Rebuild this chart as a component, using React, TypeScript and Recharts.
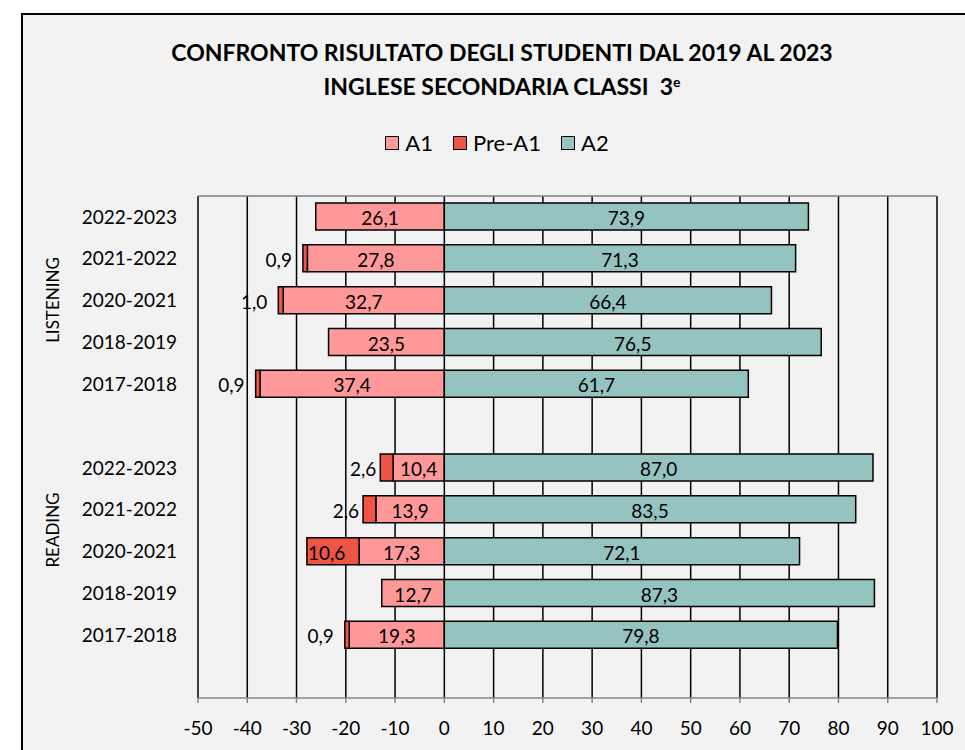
import { BarChart, Bar, XAxis, YAxis, CartesianGrid, Legend, LabelList } from 'recharts';

// rows from top to bottom; empty strings are the spacer rows
const categories = ['2022-2023', '2021-2022', '2020-2021', '2018-2019', '2017-2018', '', '2022-2023', '2021-2022', '2020-2021', '2018-2019', '2017-2018', ''];
const preA1 = [0, 0.9, 1.0, 0, 0.9, null, 2.6, 2.6, 10.6, 0, 0.9, null];
const a1 = [26.1, 27.8, 32.7, 23.5, 37.4, null, 10.4, 13.9, 17.3, 12.7, 19.3, null];
const a2 = [73.9, 71.3, 66.4, 76.5, 61.7, null, 87.0, 83.5, 72.1, 87.3, 79.8, null];
const xTicks = [-50, -40, -30, -20, -10, 0, 10, 20, 30, 40, 50, 60, 70, 80, 90, 100];
const legendOrder = ['A1', 'Pre-A1', 'A2'];

const chartData = categories.map((c, i) => ({
  key: 'r' + i,
  label: c,
  a1: a1[i] == null ? null : -(a1[i] as number),
  pre: preA1[i] == null ? null : -(preA1[i] as number),
  a2: a2[i],
}));

const COLORS = { a1: '#ff9999', pre: '#ef5545', a2: '#95c3c0' };
const FONT = 'Lato, "Open Sans", sans-serif';

const fmt = (v: number) => Math.abs(v).toFixed(1).replace('.', ',');

const InsideLabel = (props: any) => {
  const { x, y, width, height, value } = props;
  if (value == null || value === 0) return null;
  const left = Math.min(x, x + width);
  const w = Math.abs(width);
  return (
    <text x={left + w / 2} y={y + height / 2} dy={1} textAnchor="middle" dominantBaseline="central" fontSize={19} fill="#000">
      {fmt(value)}
    </text>
  );
};

// Pre-A1 labels sit outside the bar unless the bar is wide enough
const PreLabel = (props: any) => {
  const { x, y, width, height, value } = props;
  if (value == null || value === 0) return null;
  const left = Math.min(x, x + width);
  const w = Math.abs(width);
  if (w > 30) {
    return (
      <text x={left + 1} y={y + height / 2} dy={1} textAnchor="start" dominantBaseline="central" fontSize={19} fill="#000">
        {fmt(value)}
      </text>
    );
  }
  const gap = w < 8 ? 11 : 4;
  return (
    <text x={left - gap} y={y + height / 2} dy={1} textAnchor="end" dominantBaseline="central" fontSize={19} fill="#000">
      {fmt(value)}
    </text>
  );
};

const renderLegend = (props: any) => {
  const items = [...props.payload].sort((a: any, b: any) => legendOrder.indexOf(a.value) - legendOrder.indexOf(b.value));
  return (
    <div style={{ display: 'flex', justifyContent: 'center', alignItems: 'center', fontFamily: FONT, fontSize: 22, color: '#000' }}>
      {items.map((p: any) => (
        <div key={p.value} style={{ display: 'flex', alignItems: 'center', marginRight: 20 }}>
          <span style={{ display: 'inline-block', width: 12, height: 12, background: p.color, border: '1.5px solid #000', marginRight: 6 }} />
          <span>{p.value}</span>
        </div>
      ))}
    </div>
  );
};

export default function App() {
  return (
    <div style={{ position: 'absolute', left: 0, top: 0, width: 965, height: 750, overflow: 'hidden', background: '#fff', fontFamily: FONT }}>
      <div style={{ position: 'absolute', left: 21, top: 13, right: 0, bottom: 0, borderLeft: '2px solid #000', borderTop: '2px solid #000', background: '#f2f2f2' }} />

      <div style={{ position: 'absolute', left: 0, top: 35, width: 1004, textAlign: 'center', fontWeight: 700, fontSize: 23, lineHeight: '34px', color: '#000' }}>
        CONFRONTO RISULTATO DEGLI STUDENTI DAL 2019 AL 2023
        <br />
        INGLESE SECONDARIA CLASSI&nbsp;&nbsp;3<sup style={{ fontSize: 14, verticalAlign: 'top', lineHeight: '26px' }}>e</sup>
      </div>

      <div style={{ position: 'absolute', left: 52, top: 300, transform: 'translate(-50%, -50%) rotate(-90deg)', fontSize: 17, color: '#000', whiteSpace: 'nowrap' }}>
        LISTENING
      </div>
      <div style={{ position: 'absolute', left: 52, top: 530, transform: 'translate(-50%, -50%) rotate(-90deg)', fontSize: 17, color: '#000', whiteSpace: 'nowrap' }}>
        READING
      </div>

      <div style={{ position: 'absolute', left: 0, top: 0 }}>
        <BarChart
          width={965}
          height={750}
          data={chartData}
          layout="vertical"
          stackOffset="sign"
          margin={{ top: 196, right: 28, bottom: 0, left: 0 }}
        >
          <CartesianGrid horizontal={false} stroke="#000" strokeWidth={1.5} />
          <CartesianGrid vertical={false} horizontalPoints={[196]} stroke="#7f7f7f" strokeWidth={1.5} />
          <XAxis
            type="number"
            domain={[-50, 100]}
            ticks={xTicks}
            interval={0}
            height={52}
            axisLine={{ stroke: '#868686', strokeWidth: 1.5 }}
            tickLine={{ stroke: '#868686', strokeWidth: 1.5 }}
            tickSize={5}
            tickMargin={19}
            tick={{ fill: '#000', fontSize: 19 }}
          />
          <YAxis
            type="category"
            dataKey="key"
            width={198}
            interval={0}
            axisLine={false}
            tickLine={false}
            tickSize={0}
            tickMargin={21}
            tick={{ fill: '#000', fontSize: 19 }}
            tickFormatter={(k: string) => chartData.find((d) => d.key === k)?.label ?? ''}
          />
          <Legend
            verticalAlign="middle"
            layout="horizontal"
            content={renderLegend}
            wrapperStyle={{ top: 129, left: 0, width: 1014 }}
          />
          <Bar dataKey="a1" name="A1" stackId="s" fill={COLORS.a1} stroke="#000" strokeWidth={1.5} barSize={27} isAnimationActive={false}>
            <LabelList dataKey="a1" content={InsideLabel} />
          </Bar>
          <Bar dataKey="pre" name="Pre-A1" stackId="s" fill={COLORS.pre} stroke="#000" strokeWidth={1.5} barSize={27} isAnimationActive={false}>
            <LabelList dataKey="pre" content={PreLabel} />
          </Bar>
          <Bar dataKey="a2" name="A2" stackId="s" fill={COLORS.a2} stroke="#000" strokeWidth={1.5} barSize={27} isAnimationActive={false}>
            <LabelList dataKey="a2" content={InsideLabel} />
          </Bar>
        </BarChart>
      </div>
    </div>
  );
}
